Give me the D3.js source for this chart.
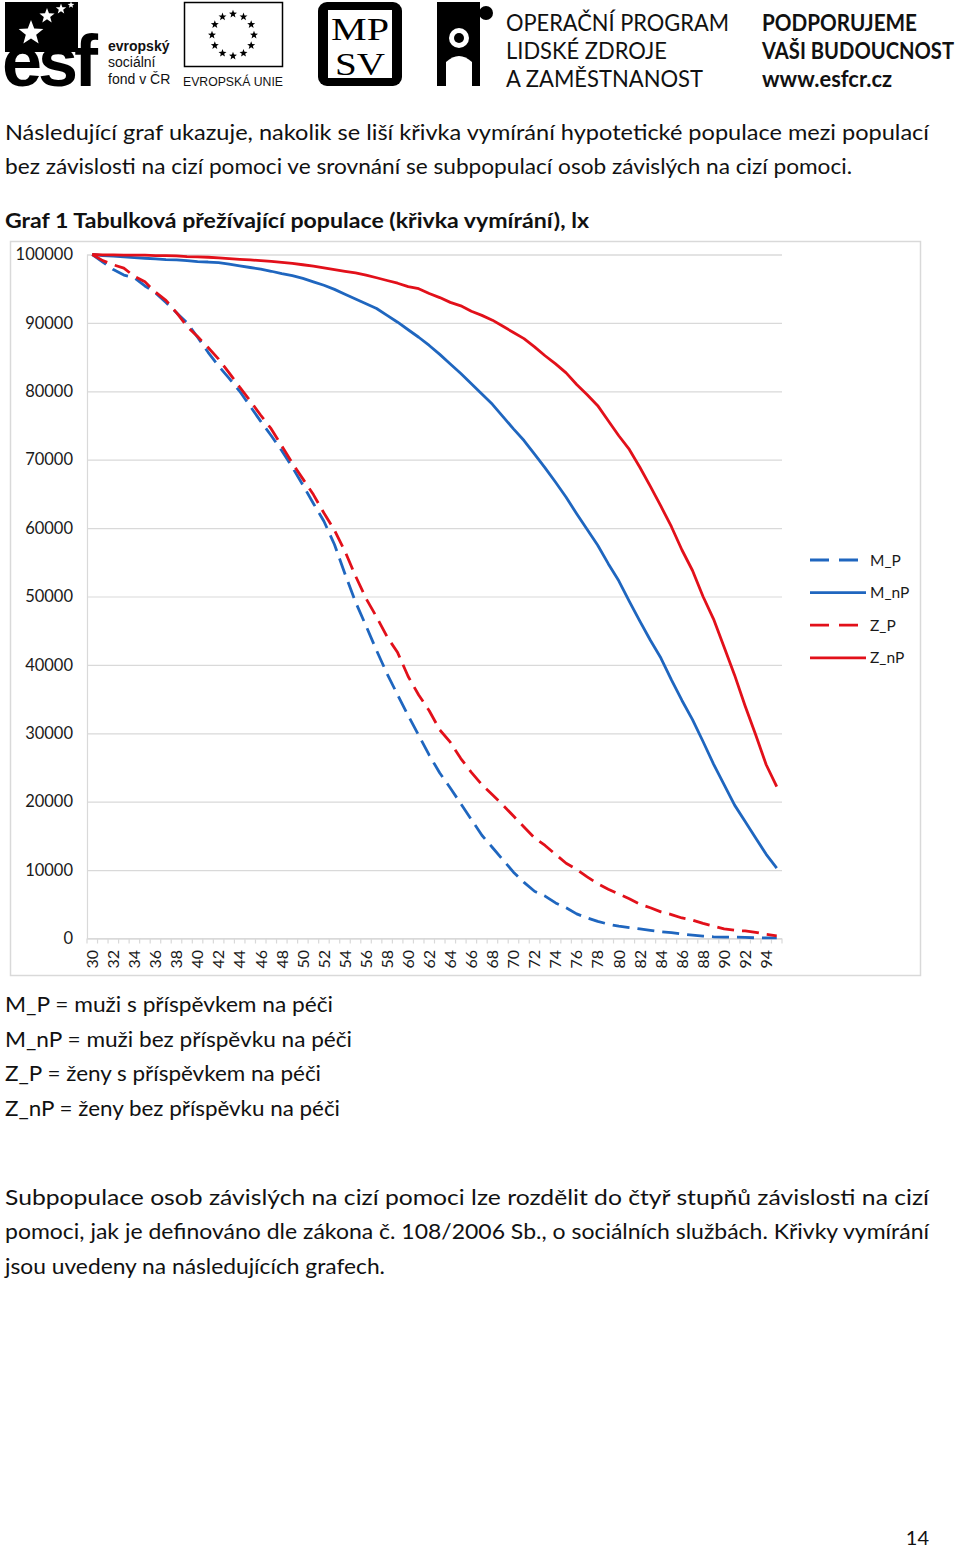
<!DOCTYPE html>
<html>
<head>
<meta charset="utf-8">
<script src="https://cdn.jsdelivr.net/npm/d3@7"></script>
<style>
  html, body { margin: 0; padding: 0; background: #fff; }
  svg { display: block; }
  text { font-family: Lato, "Open Sans", "DejaVu Sans", sans-serif; fill: #111; }
</style>
</head>
<body>
<svg id="page" width="960" height="1548"></svg>
<script>
// ---------------- DATA ----------------
const ages = [30,31,32,33,34,35,36,37,38,39,40,41,42,43,44,45,46,47,48,49,
              50,51,52,53,54,55,56,57,58,59,60,61,62,63,64,65,66,67,68,69,
              70,71,72,73,74,75,76,77,78,79,80,81,82,83,84,85,86,87,88,89,
              90,91,92,93,94,95];
const xTickLabels = [30,32,34,36,38,40,42,44,46,48,50,52,54,56,58,60,62,
                     64,66,68,70,72,74,76,78,80,82,84,86,88,90,92,94];
const yTicks = [0,10000,20000,30000,40000,50000,60000,70000,80000,90000,100000];

const M_P = [100000,98900,97800,97000,96600,95400,94400,93000,91500,90000,
             87900,85700,83700,81900,80000,77800,75600,73500,71300,68900,
             66300,63600,61000,57600,53300,49200,45700,42100,38700,35600,
             32600,29700,26800,24200,22000,19700,17400,15100,13300,11500,
             9700,8200,6900,6200,5200,4500,3600,3000,2500,2100,
             1800,1600,1400,1200,1000,850,650,500,350,250,
             200,200,150,100,100,100];
const M_nP = [100000,99850,99750,99650,99550,99450,99350,99250,99200,99100,
              98950,98900,98800,98600,98350,98100,97850,97550,97200,96900,
              96500,96000,95500,94900,94200,93500,92800,92100,91100,90100,
              89000,87900,86700,85400,84000,82600,81100,79600,78100,76300,
              74500,72800,70800,68800,66700,64500,62100,59800,57500,54800,
              52300,49300,46400,43600,41000,37800,34800,32000,28800,25500,
              22500,19500,17100,14700,12300,10300];
const Z_P = [100000,99100,98500,98000,96800,96000,94500,93300,91500,89500,
             88000,86400,84700,82700,80600,78600,76500,74500,72000,69500,
             67200,64900,62200,59700,56600,53000,49700,47000,44100,41800,
             38300,35600,33300,30500,28700,26300,24300,22500,21000,19500,
             17900,16300,14700,13600,12300,11000,10100,9000,8000,7200,
             6500,5800,5000,4500,3900,3500,3000,2700,2200,1800,
             1400,1200,1100,900,600,400];
const Z_nP = [100000,99950,99950,99900,99900,99900,99850,99850,99800,99700,
              99650,99600,99500,99400,99300,99200,99100,99000,98850,98700,
              98500,98300,98050,97800,97550,97300,97000,96600,96200,95800,
              95300,95000,94300,93700,93000,92500,91700,91100,90400,89500,
              88600,87700,86500,85200,84000,82700,81000,79500,77900,75700,
              73500,71500,68900,66100,63200,60200,56800,53800,50000,46700,
              42600,38500,34000,29800,25400,22200];

const seriesNames = ["M_P","M_nP","Z_P","Z_nP"];
const seriesValues = [M_P, M_nP, Z_P, Z_nP];
const seriesColors = ["#1f66bf","#1f66bf","#e2101a","#e2101a"];
const seriesDashed = [true,false,true,false];

const introLines = [
  "Následující graf ukazuje, nakolik se liší křivka vymírání hypotetické populace mezi populací",
  "bez závislosti na cizí pomoci ve srovnání se subpopulací osob závislých na cizí pomoci."
];
const chartTitle = "Graf 1 Tabulková přežívající populace (křivka vymírání), lx";
const keyLines = [
  "M_P = muži s příspěvkem na péči",
  "M_nP = muži bez příspěvku na péči",
  "Z_P = ženy s příspěvkem na péči",
  "Z_nP = ženy bez příspěvku na péči"
];
const paraLines = [
  "Subpopulace osob závislých na cizí pomoci lze rozdělit do čtyř stupňů závislosti na cizí",
  "pomoci, jak je definováno dle zákona č. 108/2006 Sb., o sociálních službách. Křivky vymírání",
  "jsou uvedeny na následujících grafech."
];

// ---------------- DRAW ----------------
const svg = d3.select("#page");

function fitText(sel, txt, x, y, w, size, weight) {
  return sel.append("text").attr("x", x).attr("y", y)
    .attr("font-size", size).attr("font-weight", weight || "normal")
    .attr("textLength", w).attr("lengthAdjust", "spacingAndGlyphs")
    .text(txt);
}
function fitTextScaled(sel, txt, x, y, w, size, weight, sy) {
  return sel.append("text").attr("x", 0).attr("y", 0)
    .attr("transform", `translate(${x},${y}) scale(1,${sy})`)
    .attr("font-size", size).attr("font-weight", weight || "normal")
    .attr("textLength", w).attr("lengthAdjust", "spacingAndGlyphs")
    .text(txt);
}

// ---- header logos ----
const hdr = svg.append("g");
function starPath(cx, cy, r) {
  const pts = [];
  for (let i = 0; i < 10; i++) {
    const a = -Math.PI / 2 + i * Math.PI / 5;
    const rr = i % 2 === 0 ? r : r * 0.42;
    pts.push([cx + rr * Math.cos(a), cy + rr * Math.sin(a)]);
  }
  return "M" + pts.map(p => p.join(",")).join("L") + "Z";
}
// esf
hdr.append("rect").attr("x", 5).attr("y", 2).attr("width", 73).attr("height", 50).attr("fill", "#000");
hdr.append("text").attr("x", 2).attr("y", 86).attr("font-size", 72).attr("font-weight", "bold")
  .attr("letter-spacing", -4).style("font-family", "'Liberation Sans', Arial, sans-serif").style("fill", "#000").text("esf");
[[31, 33, 13], [47, 16, 8], [61, 9, 5.5], [71, 5, 3.5]].forEach(s =>
  hdr.append("path").attr("d", starPath(s[0], s[1], s[2])).attr("fill", "#fff"));
hdr.append("text").attr("x", 108).attr("y", 51).attr("font-size", 14).attr("font-weight", "bold")
  .style("font-family", "'Liberation Sans', Arial, sans-serif").text("evropský");
hdr.append("text").attr("x", 108).attr("y", 67).attr("font-size", 14)
  .style("font-family", "'Liberation Sans', Arial, sans-serif").text("sociální");
hdr.append("text").attr("x", 108).attr("y", 84).attr("font-size", 14)
  .style("font-family", "'Liberation Sans', Arial, sans-serif").text("fond v ČR");
// EU flag
hdr.append("rect").attr("x", 184.5).attr("y", 2.5).attr("width", 98).attr("height", 64)
  .attr("fill", "#fff").attr("stroke", "#000").attr("stroke-width", 1.5);
for (let i = 0; i < 12; i++) {
  const a = i * Math.PI / 6;
  hdr.append("path").attr("d", starPath(233 + 21 * Math.cos(a), 35 + 21 * Math.sin(a), 4.2)).attr("fill", "#000");
}
hdr.append("text").attr("x", 183).attr("y", 86).attr("font-size", 13)
  .attr("textLength", 100).attr("lengthAdjust", "spacingAndGlyphs")
  .style("font-family", "'Liberation Sans', Arial, sans-serif").text("EVROPSKÁ UNIE");
// MPSV
hdr.append("rect").attr("x", 318).attr("y", 2).attr("width", 84).attr("height", 84).attr("rx", 9).attr("fill", "#000");
hdr.append("rect").attr("x", 328).attr("y", 10).attr("width", 64).attr("height", 68).attr("fill", "#fff");
hdr.append("text").attr("x", 360).attr("y", 40).attr("font-size", 31).attr("text-anchor", "middle")
  .attr("textLength", 58).attr("lengthAdjust", "spacingAndGlyphs")
  .style("font-family", "'Liberation Serif', 'DejaVu Serif', serif").style("fill", "#000").text("MP");
hdr.append("text").attr("x", 360).attr("y", 75).attr("font-size", 31).attr("text-anchor", "middle")
  .attr("textLength", 50).attr("lengthAdjust", "spacingAndGlyphs")
  .style("font-family", "'Liberation Serif', 'DejaVu Serif', serif").style("fill", "#000").text("SV");
// puzzle figure
hdr.append("path").attr("d", "M437,2 H480 V86 H437 Z").attr("fill", "#000");
hdr.append("circle").attr("cx", 486).attr("cy", 13).attr("r", 7).attr("fill", "#000");
hdr.append("circle").attr("cx", 459).attr("cy", 38).attr("r", 10).attr("fill", "#fff");
hdr.append("path").attr("d", "M446,86 V62 Q459,50 472,62 V86 Z").attr("fill", "#fff");
hdr.append("circle").attr("cx", 459).attr("cy", 38).attr("r", 5).attr("fill", "#000");
// programme text
fitText(hdr, "OPERAČNÍ PROGRAM", 506, 31, 223, 24, "normal");
fitText(hdr, "LIDSKÉ ZDROJE", 506, 59, 161, 24, "normal");
fitText(hdr, "A ZAMĚSTNANOST", 506, 87, 197, 24, "normal");
fitTextScaled(hdr, "PODPORUJEME", 762, 31, 155, 19, "bold", 1.2);
fitTextScaled(hdr, "VAŠI BUDOUCNOST", 762, 59, 192, 19, "bold", 1.2);
fitTextScaled(hdr, "www.esfcr.cz", 762, 87, 130, 19, "bold", 1.2);

// ---- texts ----
fitText(svg, introLines[0], 5, 140, 924, 21);
fitText(svg, introLines[1], 5, 174, 847, 21);
fitText(svg, chartTitle, 5, 228, 584, 21, "bold");
keyLines.forEach((t, i) => {
  const w = [328, 347, 316, 335][i];
  fitText(svg, t, 5, 1012 + i * 34.6, w, 21);
});
fitText(svg, paraLines[0], 5, 1205, 924, 21);
fitText(svg, paraLines[1], 5, 1239, 924, 21);
fitText(svg, paraLines[2], 5, 1274, 380, 21);
svg.append("text").attr("x", 929).attr("y", 1545).attr("font-size", 20).attr("text-anchor", "end").text("14");

// ---- chart ----
svg.append("rect").attr("x", 10.5).attr("y", 241.5).attr("width", 910).attr("height", 734)
  .attr("fill", "#fff").attr("stroke", "#d9d9d9").attr("stroke-width", 1.5);

const plotL = 87, plotR = 782, plotT = 254.5, plotB = 938.5;
const xBand = d3.scaleBand().domain(ages).range([plotL, plotR]).padding(0);
const xPt = d3.scalePoint().domain(ages).range([plotL, plotR]).padding(0.5);
const y = d3.scaleLinear().domain([0, 100000]).range([plotB, plotT]);

// gridlines + y labels via axis
const yAxis = d3.axisLeft(y).tickValues(yTicks).tickSize(-(plotR - plotL)).tickFormat(d3.format("d"));
const gy = svg.append("g").attr("transform", `translate(${plotL},0)`).call(yAxis);
gy.select(".domain").attr("stroke", "#d9d9d9").attr("stroke-width", 1.2);
gy.selectAll(".tick line").attr("stroke", "#d9d9d9").attr("stroke-width", 1.2);
gy.selectAll(".tick text").attr("x", -14).attr("font-size", 16.5)
  .style("font-family", "Lato, 'Open Sans', sans-serif").style("fill", "#1a1a1a");

// x axis line & ticks at category boundaries
const xAxisG = svg.append("g");
xAxisG.append("line").attr("x1", plotL).attr("x2", plotR).attr("y1", plotB).attr("y2", plotB)
  .attr("stroke", "#d9d9d9").attr("stroke-width", 1.2);
const boundaries = ages.map(a => xBand(a)).concat([xBand(ages[ages.length - 1]) + xBand.bandwidth()]);
xAxisG.selectAll("line.tk").data(boundaries).join("line").attr("class", "tk")
  .attr("x1", d => d).attr("x2", d => d).attr("y1", plotB).attr("y2", plotB + 5)
  .attr("stroke", "#d9d9d9").attr("stroke-width", 1.2);
xAxisG.selectAll("text").data(xTickLabels).join("text")
  .attr("transform", d => `translate(${xPt(d)},950) rotate(-90)`)
  .attr("text-anchor", "end").attr("dy", "0.36em").attr("font-size", 16)
  .style("fill", "#1a1a1a").text(d => d);

// series lines
const line = d3.line().x((d, i) => xPt(ages[i])).y(d => y(d));
seriesValues.forEach((vals, k) => {
  svg.append("path").datum(vals).attr("d", line)
    .attr("fill", "none").attr("stroke", seriesColors[k]).attr("stroke-width", 2.8)
    .attr("stroke-linejoin", "round")
    .attr("stroke-dasharray", seriesDashed[k] ? "17,8" : null);
});

// legend
const lg = svg.append("g");
seriesNames.forEach((n, k) => {
  const yy = 560 + k * 32.6;
  lg.append("line").attr("x1", 810).attr("x2", 866).attr("y1", yy).attr("y2", yy)
    .attr("stroke", seriesColors[k]).attr("stroke-width", 2.8)
    .attr("stroke-dasharray", seriesDashed[k] ? "19,10" : null);
  lg.append("text").attr("x", 870).attr("y", yy).attr("dy", "0.36em").attr("font-size", 15.5)
    .style("fill", "#1a1a1a").text(n);
});
</script>
</body>
</html>
